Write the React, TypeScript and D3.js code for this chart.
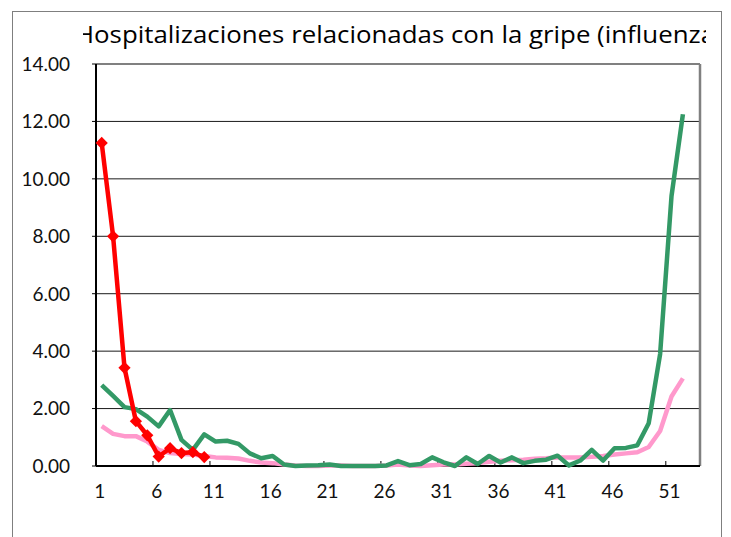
import React from 'react';
import * as d3 from 'd3';

// weeks 1..53 on the category axis
const weeks = d3.range(1, 54);
const tickLabels = [1, 6, 11, 16, 21, 26, 31, 36, 41, 46, 51];
const yTicks = [0, 2, 4, 6, 8, 10, 12, 14];

// current season (red, with markers)
const currentSeason = [11.25, 8.0, 3.42, 1.56, 1.07, 0.33, 0.62, 0.45, 0.48, 0.31];

// previous season (green)
const previousSeason = [
  2.82, 2.44, 2.05, 1.98, 1.72, 1.38, 1.95, 0.91, 0.56, 1.1,
  0.85, 0.88, 0.77, 0.44, 0.27, 0.35, 0.05, 0.0, 0.02, 0.03,
  0.05, 0.0, 0.0, 0.0, 0.0, 0.02, 0.17, 0.03, 0.07, 0.3,
  0.13, 0.0, 0.3, 0.07, 0.35, 0.12, 0.3, 0.1, 0.18, 0.22,
  0.36, 0.02, 0.19, 0.56, 0.19, 0.62, 0.63, 0.72, 1.49, 3.9,
  9.4, 12.25
];

// average of past seasons (pink)
const averageSeasons = [
  1.39, 1.12, 1.04, 1.04, 0.85, 0.56, 0.45, 0.42, 0.4, 0.35,
  0.3, 0.29, 0.26, 0.18, 0.12, 0.1, 0.05, 0.02, 0.0, 0.0,
  0.02, 0.02, 0.0, 0.0, 0.0, 0.02, 0.05, 0.02, 0.0, 0.03,
  0.05, 0.05, 0.08, 0.1, 0.15, 0.18, 0.2, 0.22, 0.25, 0.27,
  0.3, 0.3, 0.3, 0.32, 0.35, 0.4, 0.44, 0.48, 0.66, 1.22,
  2.42, 3.05
];

const title = 'Hospitalizaciones relacionadas con la gripe (influenza';

const W = 731;
const H = 537;
const plot = { left: 96, right: 700, top: 64, bottom: 466 };
const font = 'Lato, "Noto Sans", sans-serif';

export default function App() {
  const x = d3.scaleLinear().domain([0.5, weeks.length + 0.5]).range([plot.left, plot.right]);
  const y = d3.scaleLinear().domain([0, 14]).range([plot.bottom, plot.top]);

  const line = d3.line<number>()
    .x((d, i) => x(i + 1))
    .y(d => y(d));

  const boundaryTicks = tickLabels.slice(1).map(t => t - 0.5);
  const diamond = d3.symbol().type(d3.symbolDiamond2).size(95)();

  return (
    <svg width={W} height={H} style={{ position: 'absolute', left: 0, top: 0, background: '#fff' }}>
      <defs>
        <clipPath id="titleClip">
          <rect x={83} y={14} width={623} height={40} />
        </clipPath>
      </defs>
      <rect x={12.5} y={11.5} width={709} height={H} fill="#fff" stroke="#7f7f7f" strokeWidth={1} />

      <g clipPath="url(#titleClip)">
        <text x={75} y={43} fontFamily='"Open Sans", sans-serif' fontSize={24}
              textLength={640} lengthAdjust="spacingAndGlyphs" fill="#000">{title}</text>
      </g>

      {/* grid */}
      {yTicks.map(t => (
        <line key={t} x1={plot.left} x2={plot.right} y1={y(t)} y2={y(t)} stroke="#1a1a1a" strokeWidth={1} />
      ))}
      <line x1={plot.right} x2={plot.right} y1={plot.top} y2={plot.bottom} stroke="#808080" strokeWidth={2.5} />
      <line x1={plot.left} x2={plot.right} y1={plot.top} y2={plot.top} stroke="#808080" strokeWidth={2} />

      {/* axes */}
      <line x1={plot.left} x2={plot.left} y1={plot.top} y2={plot.bottom} stroke="#000" strokeWidth={2} />
      <line x1={plot.left} x2={plot.right} y1={plot.bottom} y2={plot.bottom} stroke="#000" strokeWidth={2} />
      {yTicks.map(t => (
        <line key={t} x1={plot.left - 4} x2={plot.left} y1={y(t)} y2={y(t)} stroke="#000" strokeWidth={1} />
      ))}
      {boundaryTicks.map(t => (
        <line key={t} x1={x(t)} x2={x(t)} y1={plot.bottom} y2={plot.bottom - 5} stroke="#000" strokeWidth={1} />
      ))}

      {yTicks.map(t => (
        <text key={t} x={70} y={y(t)} dy="0.36em" textAnchor="end" fontFamily={font} fontSize={19} fill="#111">
          {t.toFixed(2)}
        </text>
      ))}
      {tickLabels.map(t => (
        <text key={t} x={x(t) - 2} y={498} textAnchor="middle" fontFamily={font} fontSize={19} fill="#111">
          {t}
        </text>
      ))}

      {/* series */}
      <path d={line(averageSeasons) || ''} fill="none" stroke="#ff99cc" strokeWidth={4.5} strokeLinejoin="round" />
      <path d={line(previousSeason) || ''} fill="none" stroke="#339966" strokeWidth={4.5} strokeLinejoin="round" />
      <path d={line(currentSeason) || ''} fill="none" stroke="#ff0000" strokeWidth={4.5} strokeLinejoin="round" />
      {currentSeason.map((d, i) => (
        <path key={i} d={diamond || ''} transform={`translate(${x(i + 1)},${y(d)})`} fill="#ff0000" />
      ))}
    </svg>
  );
}
